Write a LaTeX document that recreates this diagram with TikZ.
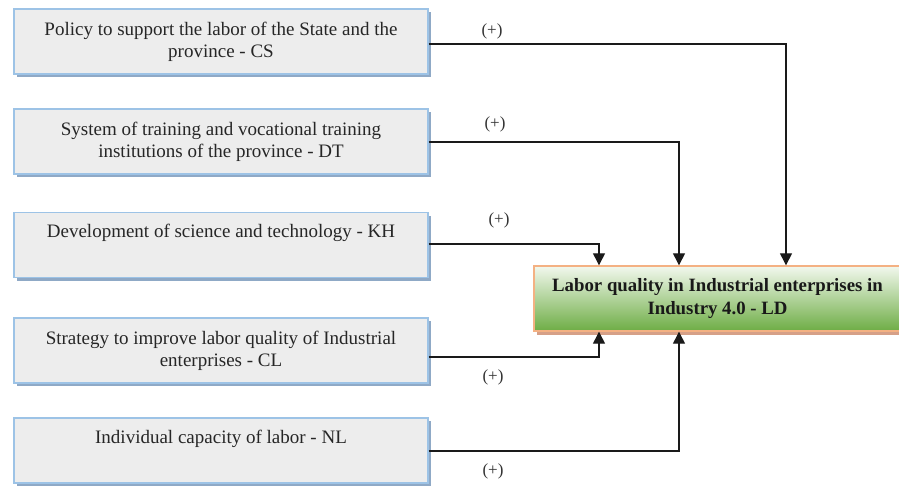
\documentclass[tikz,border=0pt]{standalone}
\usepackage{fontspec}
\setmainfont{Liberation Serif}
\usetikzlibrary{arrows.meta,shadows}
\definecolor{boxfill}{HTML}{EDEDED}
\definecolor{boxline}{HTML}{9DC3E6}
\definecolor{boxshadow}{HTML}{8FA9C6}
\definecolor{ldline}{HTML}{F4B183}
\definecolor{ldshadow}{HTML}{D6A088}
\definecolor{ldtop}{HTML}{F2F8EE}
\definecolor{ldbottom}{HTML}{6EAD45}
\definecolor{linecol}{HTML}{1A1A1A}
\tikzset{
  srcbox/.style={draw=boxline, line width=1.4pt, fill=boxfill,
    minimum width=414pt, minimum height=65pt, inner sep=0pt,
    general shadow={fill=boxshadow, shadow xshift=3pt, shadow yshift=-3pt}},
  srctext/.style={anchor=north, align=center, font=\fontsize{19}{21.5}\selectfont,
    inner sep=0pt, text=black!85},
  ldbox/.style={draw=ldline, line width=1.4pt, top color=ldtop, bottom color=ldbottom,
    minimum width=367pt, minimum height=65pt, inner sep=0pt,
    general shadow={fill=ldshadow, shadow xshift=3pt, shadow yshift=-4pt}},
  ldtext/.style={align=center, font=\fontsize{18.8}{23}\selectfont\bfseries, text=black!90},
  conn/.style={draw=linecol, line width=1.3pt, -{Triangle[length=12pt,width=12pt]}},
  sign/.style={font=\fontsize{17}{19}\selectfont, text=black!80, inner sep=0pt}
}
\begin{document}
\begin{tikzpicture}[x=1pt,y=-1pt]
\useasboundingbox (0,0) rectangle (899,487);
% source boxes
\node[srcbox] (cs) at (221,41.5) {};
\node[srcbox] (dt) at (221,141.5) {};
\node[srcbox] (kh) at (221,245) {};
\node[srcbox] (cl) at (221,350.5) {};
\node[srcbox] (nl) at (221,450.5) {};
\node[srctext] (cst) at ([yshift=-14pt]cs.north) {Policy to support the labor of the State and the\\province - CS};
\node[srctext] (dtt) at ([yshift=-14pt]dt.north) {System of training and vocational training\\institutions of the province - DT};
\node[srctext] (kht) at ([yshift=-12pt]kh.north) {Development of science and technology - KH};
\node[srctext] (clt) at ([yshift=-14pt]cl.north) {Strategy to improve labor quality of Industrial\\enterprises - CL};
\node[srctext] (nlt) at ([yshift=-13pt]nl.north) {Individual capacity of labor - NL};
% target box
\node[ldbox] (ld) at (717.5,298.5) {};
\node[ldtext] (ldt) at ([yshift=0pt]ld.center) {Labor quality in Industrial enterprises in\\Industry 4.0 - LD};
% connectors
\draw[conn] ([yshift=-2.5pt]cs.east) -| ([xshift=68.5pt]ld.north);
\draw[conn] ([yshift=-0.5pt]dt.east) -| ([xshift=-38.5pt]ld.north);
\draw[conn] ([yshift=1pt]kh.east) -| ([xshift=-118.5pt]ld.north);
\draw[conn] ([yshift=-6.5pt]cl.east) -| ([xshift=-118.5pt]ld.south);
\draw[conn] ([yshift=-0.5pt]nl.east) -| ([xshift=-38.5pt]ld.south);
% signs
\node[sign] (s1) at (492,31) {(+)};
\node[sign] (s2) at (495,124) {(+)};
\node[sign] (s3) at (499,220) {(+)};
\node[sign] (s4) at (493,377) {(+)};
\node[sign] (s5) at (493,471) {(+)};
\end{tikzpicture}
\end{document}
